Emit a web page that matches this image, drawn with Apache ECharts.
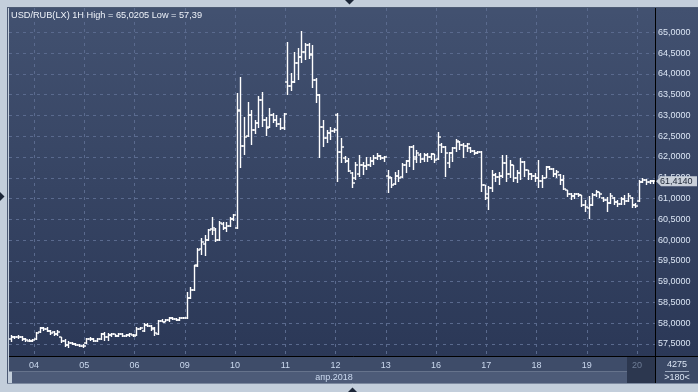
<!DOCTYPE html>
<html><head><meta charset="utf-8">
<script src="https://cdn.jsdelivr.net/npm/echarts@6/dist/echarts.min.js"></script>
<style>html,body{margin:0;padding:0;background:#c3cedb}#c{width:698px;height:392px}</style>
</head><body><div id="c"></div>
<script>
// ---- data ----
const titleText = 'USD/RUB(LX) 1H High = 65,0205 Low = 57,39';
const monthLabel = 'апр.2018';
const days = ['03','04','05','06','09','10','11','12','13','16','17','18','19','20'];
const barsPerDay = [7,14,14,14,14,14,14,14,14,14,14,14,14,5];
const currentDay = '20';
const barCountText = '4275';
const zoomText = '>180<';
const lastPrice = 61.4140;
const yMin = 57, yMax = 65.585, yStep = 0.5;

const opens = [57.62,57.68,57.66,57.67,57.62,57.58,57.57,
57.62,57.78,57.88,57.86,57.82,57.78,57.74,57.66,57.58,57.48,57.52,57.50,57.48,57.45,
57.52,57.62,57.62,57.58,57.62,57.73,57.66,57.72,57.73,57.70,57.74,57.70,57.71,57.72,
57.72,57.86,57.82,57.96,57.93,57.88,57.74,58.05,58.04,58.07,58.12,58.10,58.08,58.12,
58.12,58.60,58.80,59.38,59.78,59.90,60.00,60.27,60.25,60.00,60.38,60.28,60.35,60.50,
60.28,63.12,62.26,62.50,63.00,62.65,62.82,63.37,62.90,62.72,63.00,62.90,62.80,62.70,
63.80,63.72,63.80,64.25,64.40,64.52,64.69,64.48,63.85,63.49,62.72,62.46,62.58,62.62,
63.01,62.12,61.98,61.90,61.62,61.50,61.60,61.80,61.79,61.80,61.90,61.98,62.02,61.98,
61.55,61.50,61.35,61.55,61.52,61.80,61.90,62.24,61.95,62.05,61.96,62.05,62.00,62.06,
61.95,62.30,62.24,61.85,62.10,62.22,62.36,62.30,62.26,62.22,62.15,62.10,62.12,61.32,
61.02,61.25,61.56,61.52,61.55,61.85,61.60,61.80,61.50,61.62,61.88,61.68,61.58,61.55,
61.50,61.42,61.50,61.76,61.72,61.60,61.57,61.45,61.20,61.10,61.05,61.10,61.08,60.85,
60.78,60.85,61.08,61.15,61.02,60.96,60.90,61.02,60.92,60.86,61.00,60.95,61.02,60.85,
60.95,61.40,61.45,61.40,61.42];
const highs = [57.72,57.70,57.71,57.69,57.64,57.62,57.63,
57.78,57.91,57.92,57.90,57.84,57.82,57.83,57.68,57.62,57.58,57.55,57.53,57.51,57.50,
57.65,57.66,57.64,57.65,57.76,57.78,57.76,57.77,57.75,57.77,57.77,57.73,57.76,57.75,
57.90,57.91,58.00,58.00,57.95,57.90,58.08,58.09,58.09,58.15,58.15,58.13,58.14,58.15,
58.74,58.87,59.40,59.80,60.05,60.12,60.27,60.56,60.29,60.47,60.43,60.43,60.55,60.63,
63.54,63.92,62.96,63.32,63.13,62.90,63.47,63.56,62.96,63.18,63.06,63.01,62.94,63.06,
64.77,64.02,64.53,64.62,65.02,64.74,64.75,64.69,63.90,63.52,62.89,62.65,62.72,62.70,
63.06,62.46,62.02,61.98,61.64,61.88,62.05,61.88,62.00,62.00,62.05,62.10,62.05,62.02,
61.69,61.52,61.64,61.69,61.86,61.93,62.26,62.29,62.17,62.10,62.10,62.10,62.10,62.08,
62.60,62.34,62.27,62.12,62.24,62.43,62.38,62.34,62.34,62.24,62.17,62.14,62.14,61.33,
61.30,61.68,61.61,61.64,62.05,62.05,61.93,61.81,61.69,61.98,61.90,61.69,61.62,61.62,
61.92,61.57,61.78,61.78,61.74,61.69,61.60,61.57,61.21,61.14,61.14,61.14,61.09,60.97,
61.05,61.14,61.21,61.16,61.04,61.04,61.14,61.04,60.97,61.04,61.09,61.14,61.04,60.90,
61.45,61.50,61.47,61.45,61.45];
const lows = [57.55,57.62,57.63,57.58,57.55,57.54,57.54,
57.60,57.76,57.82,57.78,57.72,57.70,57.70,57.53,57.43,57.40,57.47,57.46,57.42,57.40,
57.50,57.58,57.55,57.54,57.60,57.58,57.58,57.68,57.68,57.68,57.66,57.68,57.68,57.68,
57.70,57.83,57.78,57.90,57.82,57.70,57.72,58.02,58.02,58.04,58.08,58.05,58.06,58.09,
58.10,58.58,58.78,59.36,59.64,59.62,59.98,60.12,59.95,59.97,60.24,60.19,60.31,60.47,
60.26,61.73,62.05,62.48,62.29,62.55,62.69,62.72,62.50,62.70,62.82,62.72,62.65,62.66,
63.49,63.59,63.78,63.85,64.26,64.33,64.35,63.66,63.30,61.97,62.24,62.34,62.41,62.58,
61.40,61.85,61.85,61.64,61.25,61.45,61.52,61.57,61.69,61.76,61.81,61.93,61.93,61.88,
61.13,61.25,61.33,61.40,61.50,61.62,61.76,61.69,61.86,61.86,61.88,61.88,61.93,61.86,
61.93,62.10,61.52,61.74,61.88,62.12,62.17,61.98,62.12,62.10,62.05,62.07,61.16,60.97,
60.72,61.16,61.40,61.33,61.50,61.40,61.50,61.40,61.38,61.45,61.52,61.45,61.45,61.40,
61.26,61.25,61.49,61.69,61.52,61.50,61.33,61.20,61.04,60.97,60.99,61.04,60.80,60.68,
60.50,60.83,61.04,61.02,60.92,60.68,60.88,60.85,60.80,60.84,60.85,60.92,60.78,60.78,
60.92,61.38,61.33,61.36,61.36];
const closes = [57.68,57.66,57.68,57.62,57.60,57.57,57.60,
57.76,57.88,57.86,57.82,57.76,57.74,57.78,57.58,57.48,57.52,57.50,57.48,57.45,57.44,
57.62,57.63,57.58,57.62,57.73,57.66,57.72,57.74,57.70,57.74,57.70,57.71,57.73,57.70,
57.86,57.88,57.96,57.93,57.85,57.76,58.05,58.04,58.07,58.12,58.10,58.08,58.12,58.13,
58.60,58.80,59.39,59.76,59.96,60.00,60.24,60.30,60.00,60.40,60.28,60.35,60.50,60.60,
63.10,62.26,62.48,63.00,62.65,62.82,63.37,62.90,62.70,63.00,62.90,62.80,62.70,63.03,
63.72,63.80,64.25,64.40,64.52,64.69,64.45,63.85,63.49,62.72,62.46,62.58,62.62,62.66,
62.12,62.24,61.90,61.67,61.37,61.80,61.80,61.79,61.80,61.90,61.98,62.02,61.98,62.00,
61.52,61.32,61.55,61.50,61.80,61.90,62.24,62.00,62.10,61.96,62.05,62.00,62.06,61.92,
62.48,62.24,62.10,62.10,62.22,62.38,62.30,62.26,62.32,62.15,62.10,62.12,61.32,61.10,
61.25,61.56,61.52,61.55,61.85,61.60,61.80,61.50,61.62,61.88,61.68,61.58,61.55,61.50,
61.42,61.50,61.76,61.72,61.60,61.65,61.45,61.22,61.10,61.05,61.10,61.08,60.85,60.80,
60.85,61.08,61.15,61.10,60.96,60.90,61.05,60.92,60.86,61.00,60.95,61.05,60.85,60.82,
61.40,61.45,61.40,61.42,61.414];

// ---- build ----
const categories = [];
days.forEach((d, k) => { for (let j = 0; j < barsPerDay[k]; j++) categories.push(d); });
const ohlc = categories.map((d, i) => [i, opens[i], closes[i], lows[i], highs[i]]);
const isDayStart = (i) => i > 0 && categories[i] !== categories[i - 1];

const FONT = 'Liberation Sans';
const W = 698, H = 392;
const gridL = 9, gridR = 43, gridT = 8, gridB = 392 - 364.78;
const plotRight = W - gridR;
const halfBand = (W - gridL - gridR) / categories.length / 2;

const chart = echarts.init(document.getElementById('c'), null, {renderer: 'canvas'});

function fmt(v) { return v.toFixed(4).replace('.', ','); }

const gradPlot = new echarts.graphic.LinearGradient(0, 0, 0, 1, [
  {offset: 0, color: '#425170'}, {offset: 1, color: '#2b3857'}]);

const option = {
  animation: false,
  backgroundColor: '#c3cedb',
  grid: {left: gridL, right: gridR, top: gridT, bottom: gridB, containLabel: false},
  xAxis: [{
    type: 'category', data: categories, boundaryGap: true, z: 4,
    axisLine: {show: false}, axisTick: {show: false}, axisLabel: {show: false},
    splitLine: {show: true, interval: (i) => isDayStart(i),
      lineStyle: {color: '#5a6a8e', type: [3, 4], width: 1}}
  }, {
    type: 'category', data: categories, boundaryGap: true, position: 'bottom', z: 11,
    axisLine: {show: false}, axisTick: {show: false}, splitLine: {show: false},
    axisLabel: {
      show: true, interval: (i) => isDayStart(i), margin: 0.5, verticalAlign: 'middle',
      padding: [0, halfBand * 2, 0, 0],
      color: '#cbd9ef', fontFamily: FONT, fontSize: 9,
      formatter: (v) => v === currentDay ? '{dim|' + v + '}' : v,
      rich: {dim: {color: '#6f7d97', fontFamily: FONT, fontSize: 9}}
    }
  }],
  yAxis: {
    type: 'value', position: 'right', min: yMin, max: yMax, interval: yStep, z: 2,
    axisLine: {show: false}, axisTick: {show: false},
    splitLine: {show: true, lineStyle: {color: '#5a6a8e', type: [3, 4], width: 1}},
    axisLabel: {
      margin: 3, color: '#dbe5f4', fontFamily: FONT, fontSize: 9,
      formatter: (v) => (v > 65.2 || v < 57.3) ? '' : fmt(v)
    }
  },
  series: [{
    type: 'custom', z: 5, xAxisIndex: 0, yAxisIndex: 0,
    encode: {x: 0, y: [1, 2, 3, 4]},
    data: ohlc,
    renderItem: function (params, api) {
      const i = api.value(0);
      const o = api.coord([i, api.value(1)]);
      const c = api.coord([i, api.value(2)]);
      const l = api.coord([i, api.value(3)]);
      const h = api.coord([i, api.value(4)]);
      const x = Math.round(o[0]) + 0.5;
      const top = Math.round(h[1]);
      const bot = Math.max(top + 1, Math.round(l[1]));
      const st = {stroke: '#ffffff', lineWidth: 1.4, lineCap: 'butt'};
      const oy = Math.round(o[1]), cy = Math.round(c[1]);
      return {type: 'group', children: [
        {type: 'line', shape: {x1: x, y1: top, x2: x, y2: bot}, style: st},
        {type: 'line', shape: {x1: x - 2.5, y1: oy, x2: x, y2: oy}, style: st},
        {type: 'line', shape: {x1: x, y1: cy, x2: x + 2.5, y2: cy}, style: st}
      ]};
    }
  }]
};
chart.setOption(option);

// ---- decorations ----
const yLast = chart.convertToPixel({yAxisIndex: 0}, lastPrice);
const els = [
  // backgrounds
  {type: 'rect', z: 0, shape: {x: gridL, y: gridT, width: plotRight - gridL, height: 357 - gridT}, style: {fill: gradPlot}},
  {type: 'rect', z: 0, shape: {x: plotRight + 1, y: gridT, width: W - plotRight - 1, height: 357 - gridT}, style: {fill: gradPlot}},
  // cover for top edge of value grid
  {type: 'rect', z: 3, shape: {x: gridL, y: 6, width: plotRight - gridL, height: 8}, style: {fill: '#425170'}},
  // bottom bands
  {type: 'rect', z: 10, shape: {x: gridL, y: 357, width: 627 - gridL, height: 14.5}, style: {fill: '#3e4c69'}},
  {type: 'rect', z: 10, shape: {x: 12, y: 371.5, width: 627 - 12, height: 11.5}, style: {fill: '#4d5b78'}},
  {type: 'rect', z: 10, shape: {x: 627, y: 357, width: plotRight - 627, height: 26}, style: {fill: '#2c374f'}},
  {type: 'rect', z: 10, shape: {x: plotRight + 1, y: 357, width: W - plotRight - 1, height: 26}, style: {fill: '#3b4966'}},
  // frame
  {type: 'rect', z: 10, shape: {x: 0, y: 0, width: W, height: 7}, style: {fill: '#c3cedb'}},
  {type: 'rect', z: 10, shape: {x: 0, y: 383, width: W, height: 9}, style: {fill: '#c3cedb'}},
  {type: 'rect', z: 10, shape: {x: 0, y: 0, width: 7, height: H}, style: {fill: '#c3cedb'}},
  {type: 'line', z: 12, shape: {x1: 7, y1: 7.5, x2: W, y2: 7.5}, style: {stroke: '#4c5a74', lineWidth: 1}},
  {type: 'line', z: 12, shape: {x1: 7.5, y1: 7, x2: 7.5, y2: 384}, style: {stroke: '#4c5a74', lineWidth: 1}},
  {type: 'line', z: 12, shape: {x1: 7, y1: 383.5, x2: W, y2: 383.5}, style: {stroke: '#7d8aa0', lineWidth: 1}},
  {type: 'line', z: 12, shape: {x1: plotRight + 0.5, y1: gridT, x2: plotRight + 0.5, y2: 383}, style: {stroke: '#000000', lineWidth: 1}},
  {type: 'line', z: 12, shape: {x1: gridL, y1: 356.5, x2: W, y2: 356.5}, style: {stroke: '#000000', lineWidth: 1}},
  // triangles
  {type: 'polygon', z: 12, shape: {points: [[345, 0], [354, 0], [349.5, 4.5]]}, style: {fill: '#1c2638'}},
  {type: 'polygon', z: 12, shape: {points: [[0, 192], [0, 201], [4.5, 196.5]]}, style: {fill: '#1c2638'}},
  {type: 'polygon', z: 12, shape: {points: [[348, 392], [357, 392], [352.5, 387.5]]}, style: {fill: '#1c2638'}},
  // title
  {type: 'text', z: 12, style: {x: 11, y: 15, text: titleText, fill: '#eef2f9', font: '9.2px "' + FONT + '"', verticalAlign: 'middle'}},
  // month label
  {type: 'text', z: 12, style: {x: 334, y: 377.5, text: monthLabel, fill: '#cbd9ef', font: '9px "' + FONT + '"', align: 'center', verticalAlign: 'middle'}},
  // bottom-right box texts
  {type: 'text', z: 12, style: {x: 677, y: 365, text: barCountText, fill: '#dbe5f4', font: '9px "' + FONT + '"', align: 'center', verticalAlign: 'middle'}},
  {type: 'line', z: 12, shape: {x1: 665, y1: 371.5, x2: 689, y2: 371.5}, style: {stroke: '#9aa7bd', lineWidth: 1}},
  {type: 'text', z: 12, style: {x: 677, y: 377.5, text: zoomText, fill: '#dbe5f4', font: '9px "' + FONT + '"', align: 'center', verticalAlign: 'middle'}},
  // last price marker
  {type: 'polygon', z: 12, shape: {points: [[656, yLast], [661, yLast - 5], [697, yLast - 5], [697, yLast + 5], [661, yLast + 5]]}, style: {fill: '#c9d0da'}},
  {type: 'text', z: 13, style: {x: 660, y: yLast + 0.5, text: fmt(lastPrice), fill: '#1c2535', font: '9px "' + FONT + '"', verticalAlign: 'middle'}}
];
chart.setOption({graphic: {elements: els}});
</script>
</body></html>
